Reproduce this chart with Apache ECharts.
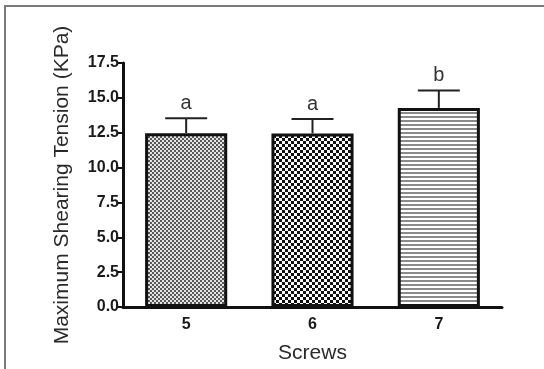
<!DOCTYPE html>
<html>
<head>
<meta charset="utf-8">
<script src="https://cdn.jsdelivr.net/npm/echarts@6/dist/echarts.min.js"></script>
<style>
  html, body { margin: 0; padding: 0; background: #fff; }
  #frame { position: absolute; left: 4px; top: 5px; width: 540px; height: 364px;
           border-left: 2px solid #7a7a7a; border-top: 2px solid #7a7a7a; }
  #chart { position: absolute; left: 0; top: 0; width: 544px; height: 369px; }
</style>
</head>
<body>
<div id="frame"></div>
<div id="chart"></div>
<script>
var screws = ['5', '6', '7'];
var tension = [12.47, 12.45, 14.28];
var errTop = [13.53, 13.48, 15.52];
var letters = ['a', 'a', 'b'];
var yTicks = ['0.0', '2.5', '5.0', '7.5', '10.0', '12.5', '15.0', '17.5'];

// fill patterns
function makePattern(kind) {
    var c = document.createElement('canvas');
    var ctx;
    if (kind == 'fine') {
        c.width = 4; c.height = 4;
        ctx = c.getContext('2d');
        ctx.fillStyle = '#e4e4e4'; ctx.fillRect(0, 0, 4, 4);
        ctx.fillStyle = '#595959'; ctx.fillRect(0, 0, 2, 2); ctx.fillRect(2, 2, 2, 2);
    } else if (kind == 'coarse') {
        c.width = 6; c.height = 6;
        ctx = c.getContext('2d');
        ctx.fillStyle = '#fff'; ctx.fillRect(0, 0, 6, 6);
        ctx.fillStyle = '#111'; ctx.fillRect(0, 0, 3, 3); ctx.fillRect(3, 3, 3, 3);
    } else {
        c.width = 4; c.height = 4;
        ctx = c.getContext('2d');
        ctx.fillStyle = '#fff'; ctx.fillRect(0, 0, 4, 4);
        ctx.fillStyle = '#8a8a8a'; ctx.fillRect(0, 0, 4, 2);
    }
    return c;
}
var patterns = ['fine', 'coarse', 'lines'];

var myChart = echarts.init(document.getElementById('chart'), null, { renderer: 'canvas' });

var option = {
    backgroundColor: 'transparent',
    animation: false,
    grid: { left: 123, right: 42, top: 63, bottom: 60 },
    xAxis: {
        type: 'category',
        data: screws,
        name: 'Screws',
        nameLocation: 'middle',
        nameGap: 36,
        nameTextStyle: { fontFamily: 'Liberation Sans', fontSize: 21, color: '#2a2a2a' },
        axisLine: { lineStyle: { color: '#111', width: 3 } },
        axisTick: { alignWithLabel: true, length: 7, lineStyle: { color: '#111', width: 2 } },
        axisLabel: { fontFamily: 'Liberation Sans', fontWeight: 'bold', fontSize: 16, color: '#1a1a1a', margin: 10 }
    },
    yAxis: {
        type: 'value',
        min: 0, max: 17.5, interval: 2.5,
        name: 'Maximum Shearing Tension (KPa)',
        nameLocation: 'middle',
        nameGap: 50,
        nameTextStyle: { fontFamily: 'Liberation Sans', fontSize: 21, color: '#2a2a2a' },
        axisLine: { show: true, lineStyle: { color: '#111', width: 3 } },
        axisTick: { show: true, length: 6, lineStyle: { color: '#111', width: 2 } },
        splitLine: { show: false },
        axisLabel: {
            fontFamily: 'Liberation Sans', fontWeight: 'bold', fontSize: 16, color: '#1a1a1a', margin: 4,
            formatter: function (v) { return yTicks[Math.round(v / 2.5)]; }
        }
    },
    series: [
        {
            type: 'bar',
            barWidth: '65%',
            data: tension.map(function (v, i) {
                return {
                    value: v,
                    itemStyle: {
                        color: { image: makePattern(patterns[i]), repeat: 'repeat' },
                        borderColor: '#111',
                        borderWidth: 3
                    }
                };
            }),
            z: 2
        },
        {
            type: 'custom',
            data: errTop.map(function (v, i) { return [i, tension[i], v]; }),
            renderItem: function (params, api) {
                var base = api.coord([api.value(0), api.value(1)]);
                var top = api.coord([api.value(0), api.value(2)]);
                var half = 21;
                return {
                    type: 'group',
                    children: [
                        { type: 'line', shape: { x1: base[0], y1: base[1], x2: top[0], y2: top[1] },
                          style: { stroke: '#222', lineWidth: 2 } },
                        { type: 'line', shape: { x1: top[0] - half, y1: top[1], x2: top[0] + half, y2: top[1] },
                          style: { stroke: '#222', lineWidth: 2 } },
                        { type: 'text', x: top[0], y: top[1] - 5,
                          style: { text: letters[params.dataIndex], fill: '#333', fontSize: 20,
                                   fontFamily: 'Liberation Sans', align: 'center', verticalAlign: 'bottom' } }
                    ]
                };
            },
            z: 3
        }
    ]
};

myChart.setOption(option);
</script>
</body>
</html>
